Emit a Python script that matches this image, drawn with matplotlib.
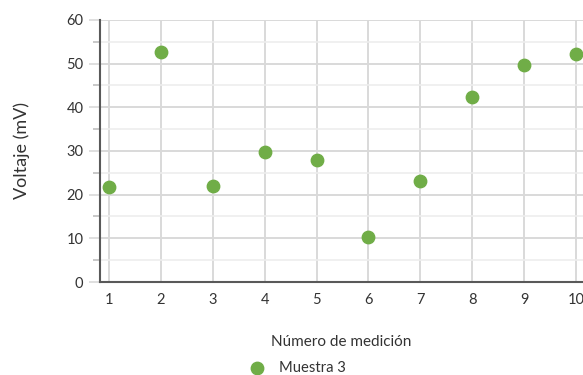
import numpy as np
import matplotlib.pyplot as plt
from matplotlib.ticker import MultipleLocator

plt.rcParams['font.family'] = ['Lato', 'DejaVu Sans']

mediciones = [1, 2, 3, 4, 5, 6, 7, 8, 9, 10]
voltaje = [21.7, 52.7, 22.0, 29.8, 27.9, 10.3, 23.1, 42.3, 49.7, 52.2]
serie = 'Muestra 3'

fig = plt.figure(figsize=(5.83, 3.75), dpi=100)
ax = fig.add_axes([0.1715, 0.248, 0.8285, 0.6987])

ax.scatter(mediciones, voltaje, s=80, color='#70AD47', zorder=3,
           clip_on=False, label=serie)

ax.set_xlim(0.827, 10.133)
ax.set_ylim(0, 60)
ax.xaxis.set_major_locator(MultipleLocator(1))
ax.yaxis.set_major_locator(MultipleLocator(10))
ax.yaxis.set_minor_locator(MultipleLocator(5))

# cuadricula
ax.grid(True, which='major', color='#d9d9d9', linewidth=1.4, zorder=0)
ax.grid(True, which='minor', axis='y', color='#ededed', linewidth=1.2, zorder=0)
ax.set_axisbelow(True)

for s in ['top', 'right']:
    ax.spines[s].set_visible(False)
ax.spines['left'].set_color('#595959')
ax.spines['left'].set_linewidth(1.5)
ax.spines['bottom'].set_color('#595959')
ax.spines['bottom'].set_linewidth(1.5)

ax.tick_params(axis='y', which='major', length=8, width=1.2, color='#d9d9d9',
               labelsize=10.5, labelcolor='#333333', pad=4)
ax.tick_params(axis='y', which='minor', length=5, width=1.2, color='#bfbfbf')
ax.tick_params(axis='x', length=0, labelsize=10.5, labelcolor='#333333', pad=8)

ax.set_ylabel('Voltaje (mV)', fontsize=13, color='#333333', labelpad=26)
ax.set_xlabel('Número de medición', fontsize=11, color='#333333', labelpad=20)

leg = fig.legend(loc='center', bbox_to_anchor=(0.505, 0.018), frameon=False,
                 fontsize=10.6, handletextpad=0.5, markerscale=1.0)
for t in leg.get_texts():
    t.set_color('#333333')

fig.savefig('out.png', dpi=100)
